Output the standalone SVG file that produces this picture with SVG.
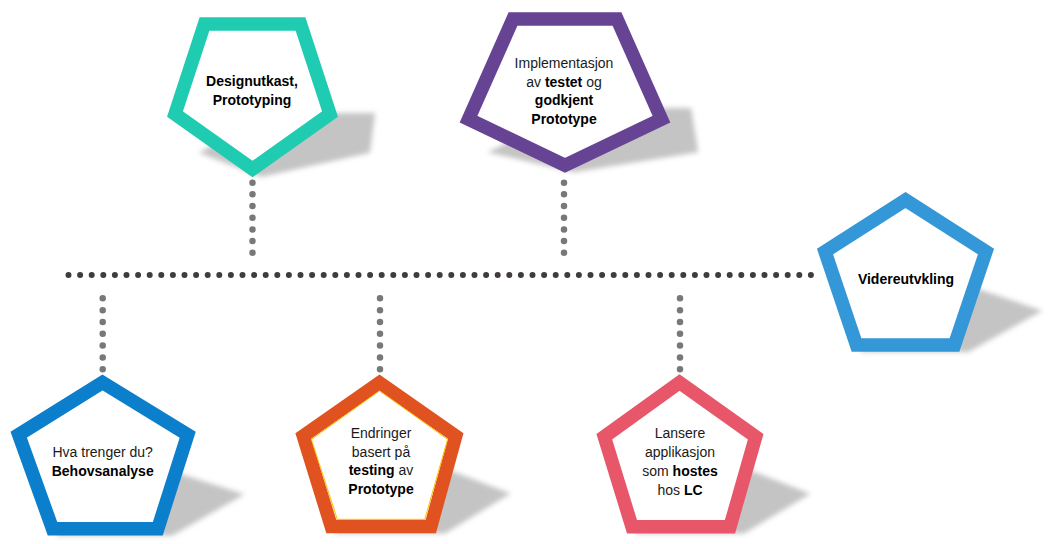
<svg xmlns="http://www.w3.org/2000/svg" width="1051" height="544" viewBox="0 0 1051 544">
<defs>
<filter id="soft" x="-30%" y="-30%" width="160%" height="160%">
<feGaussianBlur stdDeviation="2.5"/>
</filter>
<style>
.shadow{fill:#c4c4c4;stroke:#c4c4c4;stroke-width:13.5;stroke-linejoin:miter}
.pent{fill:#ffffff;stroke-width:13.5;stroke-linejoin:miter}
.hdots{fill:none;stroke:#403b3c;stroke-width:6;stroke-linecap:round;stroke-dasharray:0 11.6}
.vdots{fill:none;stroke:#787878;stroke-width:6.5;stroke-linecap:round}
text{font-family:"Liberation Sans",Arial,sans-serif;font-size:14px;fill:#1a1a1a;text-anchor:middle}
.b{font-weight:bold;fill:#000}
</style>
</defs>
<rect width="1051" height="544" fill="#ffffff"/>

<g id="connectors">
<line class="hdots" x1="68.5" y1="275" x2="811" y2="275"/>
<line class="vdots" x1="252.5" y1="182.7" x2="252.5" y2="253" style="stroke-dasharray:0 11.67"/>
<line class="vdots" x1="564" y1="182.7" x2="564" y2="253" style="stroke-dasharray:0 11.67"/>
<line class="vdots" x1="102.7" y1="298.3" x2="102.7" y2="369.5" style="stroke-dasharray:0 11.83"/>
<line class="vdots" x1="380" y1="298.3" x2="380" y2="369.5" style="stroke-dasharray:0 11.83"/>
<line class="vdots" x1="680" y1="298.3" x2="680" y2="369.5" style="stroke-dasharray:0 11.83"/>
</g>

<g id="node-design">
<g filter="url(#soft)"><polygon class="shadow" transform="matrix(1,0,-0.38,0.4,76.3,106.2)" points="204.5,24 300.5,24 330,114 252.5,169 175,114"/></g>
<polygon class="pent" stroke="#1fcbb1" points="204.5,24 300.5,24 330,114 252.5,169 175,114"/>
<text x="252" y="86" class="b">Designutkast,</text>
<text x="252" y="104.5" class="b">Prototyping</text>
</g>

<g id="node-implementasjon">
<g filter="url(#soft)"><polygon class="shadow" transform="matrix(1,0,-0.38,0.4,74.4,103.2)" points="513,19 617,19 661.5,119.2 565,165.3 468.5,119.2"/></g>
<polygon class="pent" stroke="#674393" points="513,19 617,19 661.5,119.2 565,165.3 468.5,119.2"/>
<text x="564" y="67.5">Implementasjon</text>
<text x="564" y="86.5">av <tspan class="b">testet</tspan> og</text>
<text x="564" y="105" class="b">godkjent</text>
<text x="564" y="123.5" class="b">Prototype</text>
</g>

<g id="node-videreutvikling">
<g filter="url(#soft)"><polygon class="shadow" transform="matrix(1,0,-0.38,0.4,142.8,211.2)" points="905.5,200 986,251.5 954.5,345 856.5,345 825,251.5"/></g>
<polygon class="pent" stroke="#3498d8" points="905.5,200 986,251.5 954.5,345 856.5,345 825,251.5"/>
<text x="906" y="284" class="b">Videreutvkling</text>
</g>

<g id="node-behov">
<g filter="url(#soft)"><polygon class="shadow" transform="matrix(1,0,-0.38,0.4,212.7,321.6)" points="102.5,382.5 187.7,434.7 157.8,528.7 52.5,528.7 18.7,434.7"/></g>
<polygon class="pent" stroke="#0b7fcb" points="102.5,382.5 187.7,434.7 157.8,528.7 52.5,528.7 18.7,434.7"/>
<text x="102.7" y="457.3">Hva trenger du?</text>
<text x="102.7" y="476" class="b">Behovsanalyse</text>
</g>

<g id="node-endringer">
<g filter="url(#soft)"><polygon class="shadow" transform="matrix(1,0,-0.38,0.4,211.7,320.1)" points="379.5,382.8 455.7,436 430.8,526.5 331.3,526.5 303.3,436"/></g>
<polygon class="pent" stroke="#e15221" points="379.5,382.8 455.7,436 430.8,526.5 331.3,526.5 303.3,436"/>
<polygon fill="none" stroke="#ffc000" stroke-width="1" points="379.5,390.8 447.6,439.4 424.8,519.3 337.3,519.3 311.4,439.4"/>
<text x="381" y="438.3">Endringer</text>
<text x="381" y="456.8">basert på</text>
<text x="381" y="475.2"><tspan class="b">testing</tspan> av</text>
<text x="381" y="494" class="b">Prototype</text>
</g>

<g id="node-lansere">
<g filter="url(#soft)"><polygon class="shadow" transform="matrix(1,0,-0.38,0.4,211.7,320.1)" points="679.5,382.5 755.7,436.7 730,526.7 632,526.7 604.3,436.7"/></g>
<polygon class="pent" stroke="#e8566a" points="679.5,382.5 755.7,436.7 730,526.7 632,526.7 604.3,436.7"/>
<text x="680" y="438.3">Lansere</text>
<text x="680" y="457.3">applikasjon</text>
<text x="680" y="476">som <tspan class="b">hostes</tspan></text>
<text x="680" y="495">hos <tspan class="b">LC</tspan></text>
</g>
</svg>
